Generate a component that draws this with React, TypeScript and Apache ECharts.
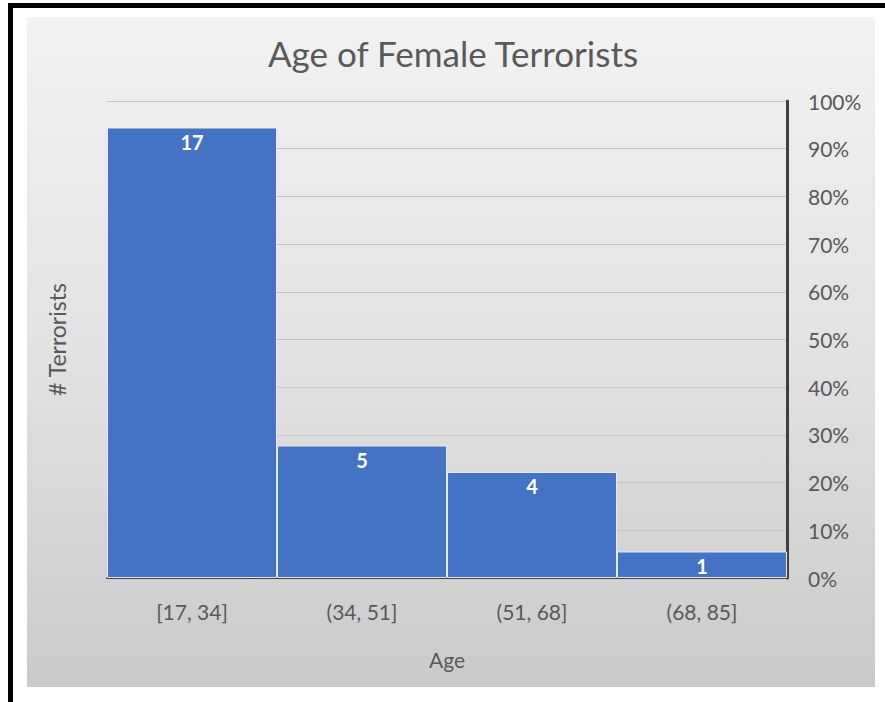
import React, { useEffect, useRef } from "react";
import * as echarts from "echarts";

const categories = ["[17, 34]", "(34, 51]", "(51, 68]", "(68, 85]"];
const counts = [17, 5, 4, 1];
const percentTicks = [0, 0.1, 0.2, 0.3, 0.4, 0.5, 0.6, 0.7, 0.8, 0.9, 1];
const titleText = "Age of Female Terrorists";
const xName = "Age";
const yName = "# Terrorists";

export default function App() {
  const ref = useRef<HTMLDivElement>(null);
  useEffect(() => {
    document.body.style.margin = "0";
    const chart = echarts.init(ref.current!, undefined, { renderer: "svg" });
    const font = "Lato, 'Open Sans', sans-serif";
    chart.setOption({
      animation: false,
      backgroundColor: "#ffffff",
      textStyle: { fontFamily: font },
      graphic: [
        {
          type: "rect",
          z: -10,
          silent: true,
          shape: { x: 27, y: 17, width: 848, height: 670 },
          style: {
            fill: new echarts.graphic.LinearGradient(0, 0, 0, 1, [
              { offset: 0, color: "#f2f2f2" },
              { offset: 0.5, color: "#e2e2e2" },
              { offset: 1, color: "#cacaca" },
            ]),
          },
        },
        { type: "rect", z: -9, silent: true, shape: { x: 8, y: 3, width: 5, height: 699 }, style: { fill: "#000" } },
        { type: "rect", z: -9, silent: true, shape: { x: 8, y: 3, width: 877, height: 5 }, style: { fill: "#000" } },
      ],
      title: {
        text: titleText,
        left: 448,
        textAlign: "center",
        top: 30,
        textStyle: { fontFamily: font, fontSize: 35, fontWeight: "normal", color: "#595959" },
      },
      grid: { left: 107, right: 98, top: 101, bottom: 124 },
      xAxis: {
        type: "category",
        data: categories,
        axisLine: { show: true, lineStyle: { color: "#404040", width: 2 } },
        axisTick: { show: false },
        axisLabel: { color: "#595959", fontSize: 21, margin: 23, fontFamily: font },
        name: xName,
        nameLocation: "middle",
        nameGap: 71,
        nameTextStyle: { color: "#595959", fontSize: 21, fontFamily: font },
      },
      yAxis: [
        {
          type: "value",
          min: 0,
          max: 18,
          position: "left",
          axisLine: { show: false },
          axisTick: { show: false },
          axisLabel: { show: false },
          splitLine: { show: false },
          name: yName,
          nameLocation: "middle",
          nameGap: 39,
          nameRotate: 90,
          nameTextStyle: { color: "#595959", fontSize: 23, fontFamily: font },
        },
        {
          type: "value",
          min: percentTicks[0],
          max: percentTicks[percentTicks.length - 1],
          interval: 0.1,
          position: "right",
          axisLine: { show: true, lineStyle: { color: "#404040", width: 3 } },
          axisTick: { show: false },
          axisLabel: {
            color: "#595959",
            fontSize: 21,
            margin: 21,
            fontFamily: font,
            formatter: (v: number) => Math.round(v * 100) + "%",
          },
          splitLine: { show: true, lineStyle: { color: "#c4c4c4", width: 1 } },
        },
      ],
      series: [
        {
          type: "bar",
          data: counts,
          yAxisIndex: 0,
          barCategoryGap: "0%",
          itemStyle: { color: "#4472C4", borderColor: "#e4ecf8", borderWidth: 1 },
          label: {
            show: true,
            position: "insideTop",
            distance: 4,
            color: "#ffffff",
            fontSize: 20,
            fontWeight: "bold",
            fontFamily: font,
          },
        },
      ],
    });
    return () => chart.dispose();
  }, []);
  return <div ref={ref} style={{ position: "absolute", left: 0, top: 0, width: 885, height: 702 }} />;
}
